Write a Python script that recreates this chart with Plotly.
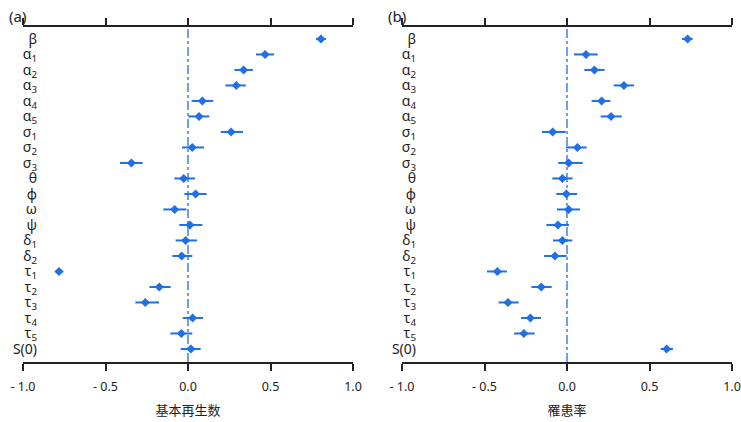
import plotly.graph_objects as go

params = ["β", "α<sub>1</sub>", "α<sub>2</sub>", "α<sub>3</sub>", "α<sub>4</sub>", "α<sub>5</sub>",
          "σ<sub>1</sub>", "σ<sub>2</sub>", "σ<sub>3</sub>", "θ", "φ", "ω", "ψ",
          "δ<sub>1</sub>", "δ<sub>2</sub>", "τ<sub>1</sub>", "τ<sub>2</sub>", "τ<sub>3</sub>",
          "τ<sub>4</sub>", "τ<sub>5</sub>", "S(0)"]

r0_mid = [0.806, 0.467, 0.337, 0.293, 0.087, 0.067, 0.261, 0.026, -0.343, -0.026, 0.046,
          -0.081, 0.012, -0.014, -0.038, -0.782, -0.174, -0.259, 0.028, -0.040, 0.018]
r0_lo = [0.776, 0.412, 0.281, 0.227, 0.022, 0.002, 0.198, -0.036, -0.412, -0.083, -0.022,
         -0.150, -0.053, -0.075, -0.095, -0.804, -0.234, -0.319, -0.032, -0.107, -0.044]
r0_hi = [0.836, 0.522, 0.393, 0.350, 0.153, 0.129, 0.333, 0.097, -0.275, 0.042, 0.113,
         -0.010, 0.087, 0.055, 0.026, -0.756, -0.105, -0.176, 0.091, 0.026, 0.077]

ar_mid = [0.731, 0.115, 0.166, 0.345, 0.210, 0.267, -0.087, 0.063, 0.010, -0.028, -0.004,
          0.010, -0.055, -0.028, -0.073, -0.422, -0.156, -0.358, -0.222, -0.261, 0.604]
ar_lo = [0.697, 0.042, 0.105, 0.283, 0.149, 0.204, -0.152, -0.006, -0.053, -0.089, -0.065,
         -0.061, -0.125, -0.085, -0.139, -0.485, -0.216, -0.414, -0.279, -0.321, 0.568]
ar_hi = [0.762, 0.186, 0.228, 0.406, 0.263, 0.331, -0.008, 0.119, 0.095, 0.034, 0.061,
         0.079, 0.012, 0.032, -0.002, -0.364, -0.093, -0.293, -0.158, -0.196, 0.642]

x_ticks = [-1.0, -0.5, 0.0, 0.5, 1.0]
x_ticktext = ["- 1.0", "- 0.5", "0.0", "0.5", "1.0"]
panel_titles = ["基本再生数", "罹患率"]
panel_tags = ["(a)", "(b)"]

BLUE = "#1f6fe5"
W, H = 741, 422
FONT = "Noto Sans, DejaVu Sans, sans-serif"
CJK = "Noto Sans CJK SC"

fig = go.Figure()
rows = list(range(len(params)))
panels = [(r0_mid, r0_lo, r0_hi), (ar_mid, ar_lo, ar_hi)]
xdomains = [[23 / W, 353 / W], [402 / W, 732 / W]]
Y_RANGE = [20.84, -0.77]

for k, (mid, lo, hi) in enumerate(panels):
    xa = "x" if k == 0 else "x2"
    ya = "y" if k == 0 else "y2"
    fig.add_trace(go.Scatter(x=[0, 0], y=Y_RANGE, mode="lines",
                             line=dict(color=BLUE, width=1.3, dash="dashdot"),
                             xaxis=xa, yaxis=ya, showlegend=False, hoverinfo="skip"))
    xs, ys = [], []
    for i in rows:
        xs += [lo[i], hi[i], None]
        ys += [i, i, None]
    fig.add_trace(go.Scatter(x=xs, y=ys, mode="lines",
                             line=dict(color=BLUE, width=2),
                             xaxis=xa, yaxis=ya, showlegend=False, hoverinfo="skip"))
    fig.add_trace(go.Scatter(x=mid, y=rows, mode="markers",
                             marker=dict(symbol="diamond", size=7, color=BLUE),
                             xaxis=xa, yaxis=ya, showlegend=False))

axis_x = dict(range=[-1, 1], tickvals=x_ticks, ticktext=x_ticktext, automargin=False,
              showgrid=False, zeroline=False, showline=True, linecolor="#222",
              linewidth=1.5, mirror="ticks", ticks="outside", ticklen=7, tickwidth=1.5,
              tickcolor="#222", ticklabelstandoff=5,
              tickfont=dict(family=FONT, size=12.5, color="#222"))
axis_y = dict(range=Y_RANGE, tickvals=rows, ticktext=params, showgrid=False, automargin=False,
              zeroline=False, showline=False, ticks="", ticklabelstandoff=-15,
              tickfont=dict(family=FONT, size=14, color="#222"))

fig.update_layout(
    width=W, height=H, margin=dict(l=0, r=0, t=27, b=60),
    paper_bgcolor="white", plot_bgcolor="white",
    xaxis=dict(axis_x, domain=xdomains[0], anchor="y",
               title=dict(text=panel_titles[0], standoff=12,
                          font=dict(family=CJK, size=13, color="#222"))),
    xaxis2=dict(axis_x, domain=xdomains[1], anchor="y2",
                title=dict(text=panel_titles[1], standoff=12,
                           font=dict(family=CJK, size=13, color="#222"))),
    yaxis=dict(axis_y, domain=[0, 1], anchor="x"),
    yaxis2=dict(axis_y, domain=[0, 1], anchor="x2"),
)

for k, tag in enumerate(panel_tags):
    fig.add_annotation(text=tag, xref="paper", yref="paper", x=xdomains[k][0] - 16 / W, y=1,
                       xanchor="left", yanchor="bottom", showarrow=False, yshift=-1,
                       font=dict(family=FONT, size=15, color="#222"))

fig.write_html("out.html", config={"displayModeBar": False})

# remove the browser's default 8px body margin so the figure fills the window exactly
with open("out.html", encoding="utf-8") as f:
    html = f.read()
html = html.replace("<body>", '<body style="margin:0;padding:0;overflow:hidden">', 1)
with open("out.html", "w", encoding="utf-8") as f:
    f.write(html)
